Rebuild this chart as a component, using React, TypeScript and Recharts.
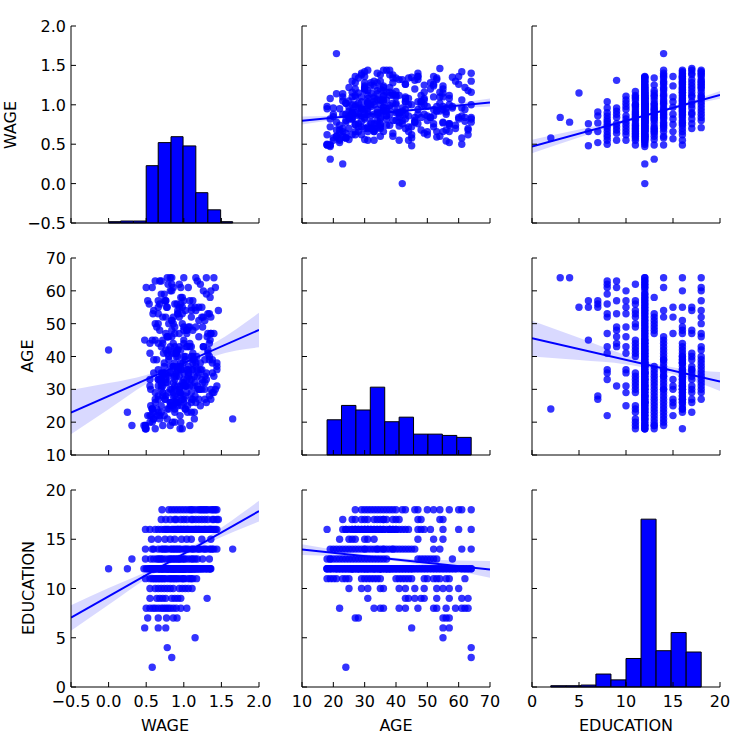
import React from 'react';
import { ComposedChart, XAxis, YAxis, Scatter, Line, Area, ReferenceArea } from 'recharts';

// one row per worker: [WAGE (log10 hourly wage), AGE, EDUCATION]
const workers: [number, number, number][] = [
  // education 2 - 7
  [0.58, 24, 2], [0.84, 64, 3], [0.78, 64, 4], [1.15, 55, 5],
  [0.48, 45, 6], [0.66, 55, 6], [0.76, 57, 6],
  [0.52, 57, 7], [0.66, 27, 7], [0.77, 55, 7], [0.86, 28, 7], [0.91, 56, 7],
  // 8
  [0.55, 22, 8], [0.62, 63, 8], [0.70, 59, 8], [0.76, 33, 8], [0.82, 43, 8], [0.86, 52, 8], [0.96, 56, 8],
  [1.04, 47, 8], [0.50, 61, 8], [0.66, 36, 8], [0.73, 41, 8], [0.90, 35, 8], [0.59, 53, 8], [0.79, 62, 8],
  // 9
  [0.55, 31, 9], [0.68, 63, 9], [0.72, 44, 9], [0.76, 57, 9], [0.84, 48, 9], [0.92, 53, 9], [0.96, 61, 9],
  [1.31, 46, 9], [0.64, 49, 9], [0.88, 43, 9],
  // 10
  [0.86, 25, 10], [0.62, 29, 10], [1.02, 31, 10], [0.70, 35, 10], [1.11, 36, 10], [0.55, 41, 10], [0.94, 43, 10],
  [0.78, 46, 10], [1.06, 49, 10], [0.66, 53, 10], [0.98, 55, 10], [0.74, 57, 10], [0.82, 60, 10],
  // 11
  [0.49, 19, 11], [0.95, 18, 11], [0.60, 21, 11], [1.05, 25, 11], [0.72, 29, 11], [1.12, 31, 11], [0.66, 33, 11],
  [0.88, 34, 11], [1.17, 40, 11], [0.80, 42, 11], [0.55, 44, 11], [1.00, 49, 11], [0.76, 52, 11], [0.92, 54, 11],
  [1.08, 57, 11], [0.84, 62, 11], [0.58, 20, 11], [0.70, 23, 11], [0.64, 24, 11], [0.82, 30, 11], [1.00, 32, 11],
  [0.74, 35, 11], [0.90, 41, 11], [1.10, 43, 11], [0.62, 45, 11], [0.86, 50, 11], [0.98, 53, 11], [0.68, 56, 11],
  // 12
  [0.50, 18, 12], [0.62, 18, 12], [0.98, 18, 12], [0.47, 19, 12], [0.72, 19, 12], [1.08, 19, 12], [0.55, 20, 12],
  [0.85, 20, 12], [0.60, 21, 12], [0.78, 21, 12], [1.14, 21, 12], [0.52, 22, 12], [0.68, 22, 12], [0.95, 22, 12],
  [0.25, 23, 12], [0.66, 23, 12], [0.88, 23, 12], [0.58, 24, 12], [0.80, 24, 12], [1.02, 24, 12], [0.70, 25, 12],
  [0.92, 25, 12], [0.82, 25, 12], [0.62, 26, 12], [0.84, 26, 12], [1.10, 26, 12], [1.00, 26, 12], [0.75, 27, 12],
  [0.98, 27, 12], [0.90, 27, 12], [0.66, 28, 12], [0.88, 28, 12], [1.15, 28, 12], [0.76, 28, 12], [0.79, 29, 12],
  [1.04, 29, 12], [0.96, 29, 12], [0.56, 30, 12], [0.94, 30, 12], [1.20, 30, 12], [0.84, 30, 12], [0.72, 31, 12],
  [1.08, 31, 12], [1.02, 31, 12], [0.86, 32, 12], [1.25, 32, 12], [0.78, 32, 12], [0.68, 33, 12], [1.00, 33, 12],
  [1.10, 33, 12], [0.90, 34, 12], [1.14, 34, 12], [0.94, 34, 12], [0.60, 35, 12], [0.82, 35, 12], [1.30, 35, 12],
  [0.72, 35, 12], [0.97, 36, 12], [1.18, 36, 12], [1.04, 36, 12], [0.74, 37, 12], [1.06, 37, 12], [0.86, 37, 12],
  [0.88, 38, 12], [1.22, 38, 12], [0.99, 38, 12], [0.64, 39, 12], [1.02, 39, 12], [0.80, 39, 12], [0.92, 40, 12],
  [1.34, 40, 12], [1.12, 40, 12], [0.78, 41, 12], [1.12, 41, 12], [0.00, 42, 12], [0.96, 42, 12], [0.76, 42, 12],
  [0.70, 43, 12], [1.26, 43, 12], [1.08, 43, 12], [0.86, 44, 12], [1.08, 44, 12], [0.58, 45, 12], [1.00, 45, 12],
  [1.35, 45, 12], [0.80, 46, 12], [1.20, 46, 12], [0.94, 47, 12], [1.36, 47, 12], [0.68, 48, 12], [1.04, 48, 12],
  [0.88, 49, 12], [1.16, 49, 12], [0.62, 50, 12], [0.98, 50, 12], [0.84, 51, 12], [1.28, 51, 12], [0.72, 52, 12],
  [1.10, 52, 12], [0.92, 53, 12], [1.32, 53, 12], [0.60, 54, 12], [1.02, 54, 12], [0.78, 55, 12], [1.24, 55, 12],
  [0.88, 56, 12], [0.54, 56, 12], [0.66, 57, 12], [1.12, 57, 12], [0.96, 58, 12], [1.35, 58, 12], [0.74, 59, 12],
  [1.30, 59, 12], [0.84, 60, 12], [0.58, 61, 12], [1.06, 61, 12], [0.94, 62, 12], [1.22, 62, 12], [0.70, 63, 12],
  [1.18, 63, 12], [0.82, 64, 12], [1.00, 64, 12], [0.90, 26, 12], [0.96, 31, 12], [0.88, 33, 12], [1.06, 35, 12],
  [0.92, 37, 12], [1.16, 38, 12], [0.84, 41, 12], [1.00, 44, 12],
  // 13
  [0.31, 19, 13], [0.49, 18, 13], [0.88, 20, 13], [0.64, 22, 13], [1.02, 24, 13], [0.56, 25, 13], [1.10, 27, 13],
  [0.72, 28, 13], [0.95, 29, 13], [1.15, 32, 13], [0.80, 34, 13], [1.06, 36, 13], [0.76, 47, 13], [1.25, 49, 13],
  [0.84, 51, 13], [1.34, 53, 13], [0.98, 58, 13], [0.68, 21, 13], [0.90, 26, 13], [0.82, 19, 13], [0.60, 23, 13],
  [1.18, 30, 13], [0.92, 31, 13], [0.70, 33, 13], [1.00, 35, 13], [0.86, 37, 13], [1.12, 48, 13], [0.66, 50, 13],
  [0.94, 52, 13],
  // 14
  [1.65, 21, 14], [0.49, 19, 14], [0.96, 20, 14], [0.74, 22, 14], [1.14, 23, 14], [0.58, 24, 14], [1.30, 26, 14],
  [0.88, 30, 14], [1.44, 31, 14], [0.66, 33, 14], [1.06, 35, 14], [1.22, 36, 14], [0.82, 37, 14], [1.38, 38, 14],
  [1.00, 40, 14], [0.70, 32, 14], [1.18, 34, 14], [0.92, 42, 14], [1.34, 44, 14], [0.78, 46, 14], [1.26, 52, 14],
  [1.10, 54, 14], [0.86, 61, 14], [1.40, 64, 14], [1.02, 28, 14], [0.60, 39, 14], [0.84, 25, 14], [1.20, 27, 14],
  [0.94, 29, 14], [1.36, 30, 14], [0.76, 34, 14], [1.12, 36, 14], [1.28, 39, 14], [0.90, 41, 14], [1.04, 43, 14],
  [0.72, 45, 14],
  // 15
  [0.57, 22, 15], [0.97, 25, 15], [0.75, 27, 15], [1.24, 30, 15], [0.66, 31, 15], [1.04, 33, 15], [0.88, 47, 15],
  [1.36, 52, 15], [1.10, 55, 15], [0.82, 26, 15],
  // 16
  [0.49, 18, 16], [1.05, 23, 16], [0.78, 24, 16], [1.22, 25, 16], [0.92, 26, 16], [0.62, 27, 16], [1.34, 28, 16],
  [1.10, 29, 16], [0.86, 29, 16], [1.42, 30, 16], [0.70, 31, 16], [1.18, 31, 16], [0.98, 32, 16], [1.30, 33, 16],
  [0.55, 33, 16], [1.06, 34, 16], [1.38, 35, 16], [0.84, 35, 16], [1.24, 36, 16], [0.96, 37, 16], [1.44, 38, 16],
  [0.74, 38, 16], [1.14, 39, 16], [1.02, 40, 16], [1.32, 41, 16], [0.90, 42, 16], [1.26, 43, 16], [0.66, 44, 16],
  [1.40, 47, 16], [1.08, 49, 16], [1.20, 51, 16], [0.94, 55, 16], [1.36, 60, 16], [1.16, 64, 16], [1.00, 27, 16],
  [1.28, 30, 16], [0.80, 40, 16], [0.88, 24, 16], [1.16, 26, 16], [1.36, 27, 16], [0.96, 28, 16], [1.20, 30, 16],
  [1.04, 31, 16], [0.76, 32, 16], [1.28, 34, 16], [0.92, 36, 16], [1.12, 38, 16], [1.34, 39, 16], [1.00, 48, 16],
  // 17
  [1.10, 23, 17], [0.82, 26, 17], [1.38, 29, 17], [0.70, 30, 17], [1.24, 33, 17], [0.96, 36, 17], [1.44, 36, 17],
  [1.16, 37, 17], [0.88, 41, 17], [1.32, 47, 17], [1.04, 48, 17], [1.46, 54, 17], [1.20, 55, 17], [0.76, 35, 17],
  [1.28, 27, 17], [1.00, 31, 17], [1.40, 34, 17], [1.12, 39, 17], [0.90, 40, 17],
  // 18
  [1.12, 27, 18], [1.40, 29, 18], [0.88, 31, 18], [1.28, 32, 18], [0.71, 34, 18], [1.20, 35, 18], [1.44, 37, 18],
  [0.96, 38, 18], [1.32, 42, 18], [1.04, 43, 18], [1.36, 47, 18], [0.80, 50, 18], [1.24, 52, 18], [1.16, 54, 18],
  [1.00, 57, 18], [1.42, 61, 18], [1.30, 64, 18], [1.08, 33, 18], [1.22, 30, 18], [0.92, 36, 18], [1.38, 39, 18],
  [1.10, 40, 18], [0.84, 46, 18], [1.26, 60, 18],
];

const VARS = ['WAGE', 'AGE', 'EDUCATION'];

const wageTicks = [-0.5, 0, 0.5, 1, 1.5, 2];
const ageTicks = [10, 20, 30, 40, 50, 60, 70];
const eduTicks = [0, 5, 10, 15, 20];

// diagonal histograms (bin edges + counts)
const wageEdges = [0.0, 0.16, 0.33, 0.5, 0.66, 0.83, 0.99, 1.16, 1.32, 1.49, 1.65];
const wageCounts = [2, 3, 3, 87, 122, 131, 117, 46, 20, 2];
const ageEdges = [18, 22.6, 27.2, 31.8, 36.4, 41, 45.6, 50.2, 54.8, 59.4, 64];
const ageCounts = [54, 76, 69, 104, 51, 58, 32, 32, 30, 27];
const eduEdges = [2, 3.6, 5.2, 6.8, 8.4, 10, 11.6, 13.2, 14.8, 16.4, 18];
const eduCounts = [2, 2, 3, 20, 11, 44, 259, 56, 84, 54];

// regression fits: line ends [x, y] and confidence band [x, lo, hi]
const wageOnAgeLine = [[10, 0.797], [70, 1.029]];
const wageOnAgeBand = [[10, 0.75, 0.85], [25, 0.837, 0.873], [37, 0.889, 0.913], [50, 0.934, 0.97], [70, 0.979, 1.079]];
const wageOnEduLine = [[0, 0.471], [20, 1.126]];
const wageOnEduBand = [[0, 0.386, 0.556], [5, 0.585, 0.685], [10, 0.779, 0.819], [13, 0.884, 0.91], [16, 0.975, 1.015], [20, 1.076, 1.176]];
const ageOnWageLine = [[-0.5, 22.9], [2.0, 48.1]];
const ageOnWageBand = [[-0.5, 16.3, 29.8], [0, 23.9, 31.9], [0.5, 31.6, 34.4], [0.92, 36.3, 38.1], [1.4, 40.1, 44.0], [1.7, 41.8, 48.4], [2.0, 42.8, 53.3]];
const ageOnEduLine = [[0, 45.6], [20, 32.4]];
const ageOnEduBand = [[0, 40.0, 50.9], [5, 38.9, 45.7], [10, 37.6, 40.4], [13, 36.1, 37.9], [16, 33.7, 36.3], [20, 29.5, 35.3]];
const eduOnWageLine = [[-0.5, 7.05], [2.0, 17.86]];
const eduOnWageBand = [[-0.5, 5.7, 8.3], [0, 8.35, 10.05], [0.5, 11.0, 11.7], [0.92, 12.97, 13.41], [1.4, 14.87, 15.67], [2.0, 16.8, 18.9]];
const eduOnAgeLine = [[10, 13.97], [70, 11.93]];
const eduOnAgeBand = [[10, 13.4, 14.5], [25, 13.21, 13.71], [37, 12.9, 13.2], [50, 12.31, 12.91], [70, 11.1, 12.8]];

const FITS: Record<string, { line: number[][]; band: number[][] }> = {
  'WAGE~AGE': { line: wageOnAgeLine, band: wageOnAgeBand },
  'WAGE~EDUCATION': { line: wageOnEduLine, band: wageOnEduBand },
  'AGE~WAGE': { line: ageOnWageLine, band: ageOnWageBand },
  'AGE~EDUCATION': { line: ageOnEduLine, band: ageOnEduBand },
  'EDUCATION~WAGE': { line: eduOnWageLine, band: eduOnWageBand },
  'EDUCATION~AGE': { line: eduOnAgeLine, band: eduOnAgeBand },
};

const fmtWage = (v: number) => v.toFixed(1).replace('-', '\u2212');
const fmtInt = (v: number) => String(v);

const AXES: Record<string, any> = {
  WAGE: { idx: 0, domain: [-0.5, 2], ticks: wageTicks, fmt: fmtWage, edges: wageEdges, counts: wageCounts, histMax: 299 },
  AGE: { idx: 1, domain: [10, 70], ticks: ageTicks, fmt: fmtInt, edges: ageEdges, counts: ageCounts, histMax: 302 },
  EDUCATION: { idx: 2, domain: [0, 20], ticks: eduTicks, fmt: fmtInt, edges: eduEdges, counts: eduCounts, histMax: 304 },
};

const COL_X = [71, 302, 532];
const ROW_Y = [26, 258, 490];
const PW = 188;
const PH = 197;
const YW = 64;
const MT = 8;
const MR = 20;
const XH = 30;
const BLUE = '#0000ff';
const FONT = 'DejaVu Sans';

const XTick = (p: any) => {
  const { x, y, payload, fmt, show } = p;
  return (
    <g>
      <line x1={x} x2={x} y1={y} y2={y - 5} stroke="#000" />
      {show && (
        <text x={x} y={y + 19.5} textAnchor="middle" fontFamily={FONT} fontSize={16} fill="#000">
          {fmt(payload.value)}
        </text>
      )}
    </g>
  );
};

const YTick = (p: any) => {
  const { x, y, payload, fmt, show } = p;
  return (
    <g>
      <line x1={x} x2={x + 5} y1={y} y2={y} stroke="#000" />
      {show && (
        <text x={x - 5} y={y + 6} textAnchor="end" fontFamily={FONT} fontSize={16} fill="#000">
          {fmt(payload.value)}
        </text>
      )}
    </g>
  );
};

const Dot = (p: any) => <circle cx={p.cx} cy={p.cy} r={3.7} fill={BLUE} fillOpacity={0.8} />;

function Panel({ row, col }: { row: number; col: number }) {
  const xv = VARS[col];
  const yv = VARS[row];
  const xa = AXES[xv];
  const ya = AXES[yv];
  const diag = row === col;
  const fit = FITS[`${yv}~${xv}`];
  const pts = diag ? [] : workers.map((w) => ({ x: w[xa.idx], y: w[ya.idx] }));
  const lineData = fit ? fit.line.map(([x, y]) => ({ x, y })) : [];
  const bandData = fit ? fit.band.map(([x, lo, hi]) => ({ x, band: [lo, hi] })) : [];

  return (
    <div style={{ position: 'absolute', left: COL_X[col] - YW, top: ROW_Y[row] - MT }}>
      <ComposedChart
        width={YW + PW + MR}
        height={MT + PH + XH}
        margin={{ top: MT, right: MR, bottom: 0, left: 0 }}
        style={{ overflow: 'visible' }}
      >
        <XAxis
          type="number"
          dataKey="x"
          domain={xa.domain}
          ticks={xa.ticks}
          interval={0}
          allowDataOverflow
          height={XH}
          tickSize={0}
          tickMargin={0}
          tickLine={false}
          axisLine={{ stroke: '#000' }}
          tick={(p: any) => <XTick {...p} fmt={xa.fmt} show={row === 2} />}
        />
        <YAxis
          type="number"
          dataKey="y"
          domain={ya.domain}
          ticks={ya.ticks}
          interval={0}
          allowDataOverflow
          width={YW}
          tickSize={0}
          tickMargin={0}
          tickLine={false}
          axisLine={{ stroke: '#000' }}
          tick={(p: any) => <YTick {...p} fmt={ya.fmt} show={col === 0} />}
        />
        {diag && <YAxis yAxisId="hist" hide type="number" domain={[0, xa.histMax]} allowDataOverflow />}
        {diag &&
          xa.counts.map((c: number, i: number) => (
            <ReferenceArea
              key={i}
              yAxisId="hist"
              x1={xa.edges[i]}
              x2={xa.edges[i + 1]}
              y1={0}
              y2={c}
              fill={BLUE}
              fillOpacity={1}
              stroke="#000"
              strokeWidth={1}
              ifOverflow="visible"
            />
          ))}
        {!diag && (
          <Scatter data={pts} dataKey="y" shape={Dot} isAnimationActive={false} zIndex={100} />
        )}
        {!diag && (
          <Area
            data={bandData}
            dataKey="band"
            type="monotone"
            fill={BLUE}
            fillOpacity={0.15}
            stroke="none"
            dot={false}
            activeDot={false}
            isAnimationActive={false}
            zIndex={200}
          />
        )}
        {!diag && (
          <Line
            data={lineData}
            dataKey="y"
            type="linear"
            stroke={BLUE}
            strokeWidth={2}
            dot={false}
            activeDot={false}
            isAnimationActive={false}
            zIndex={300}
          />
        )}
      </ComposedChart>
    </div>
  );
}

const titleStyle: React.CSSProperties = {
  position: 'absolute',
  fontFamily: FONT,
  fontSize: 16,
  color: '#000',
  whiteSpace: 'nowrap',
  lineHeight: 1,
};

export default function App() {
  const cells = [];
  for (let r = 0; r < 3; r++) for (let c = 0; c < 3; c++) cells.push(<Panel key={`${r}-${c}`} row={r} col={c} />);
  const yTitles = [
    { t: 'WAGE', x: 11, y: 125 },
    { t: 'AGE', x: 28, y: 356 },
    { t: 'EDUCATION', x: 29, y: 588 },
  ];
  const xTitles = [
    { t: 'WAGE', x: 165, y: 726 },
    { t: 'AGE', x: 396, y: 726 },
    { t: 'EDUCATION', x: 626, y: 726 },
  ];
  return (
    <div style={{ position: 'absolute', left: 0, top: 0, width: 750, height: 750, background: '#fff', overflow: 'hidden' }}>
      {cells}
      {yTitles.map((d) => (
        <div key={d.t} style={{ ...titleStyle, left: d.x, top: d.y, transform: 'translate(-50%, -50%) rotate(-90deg)' }}>
          {d.t}
        </div>
      ))}
      {xTitles.map((d) => (
        <div key={'x' + d.t} style={{ ...titleStyle, left: d.x, top: d.y, transform: 'translate(-50%, -50%)' }}>
          {d.t}
        </div>
      ))}
    </div>
  );
}
